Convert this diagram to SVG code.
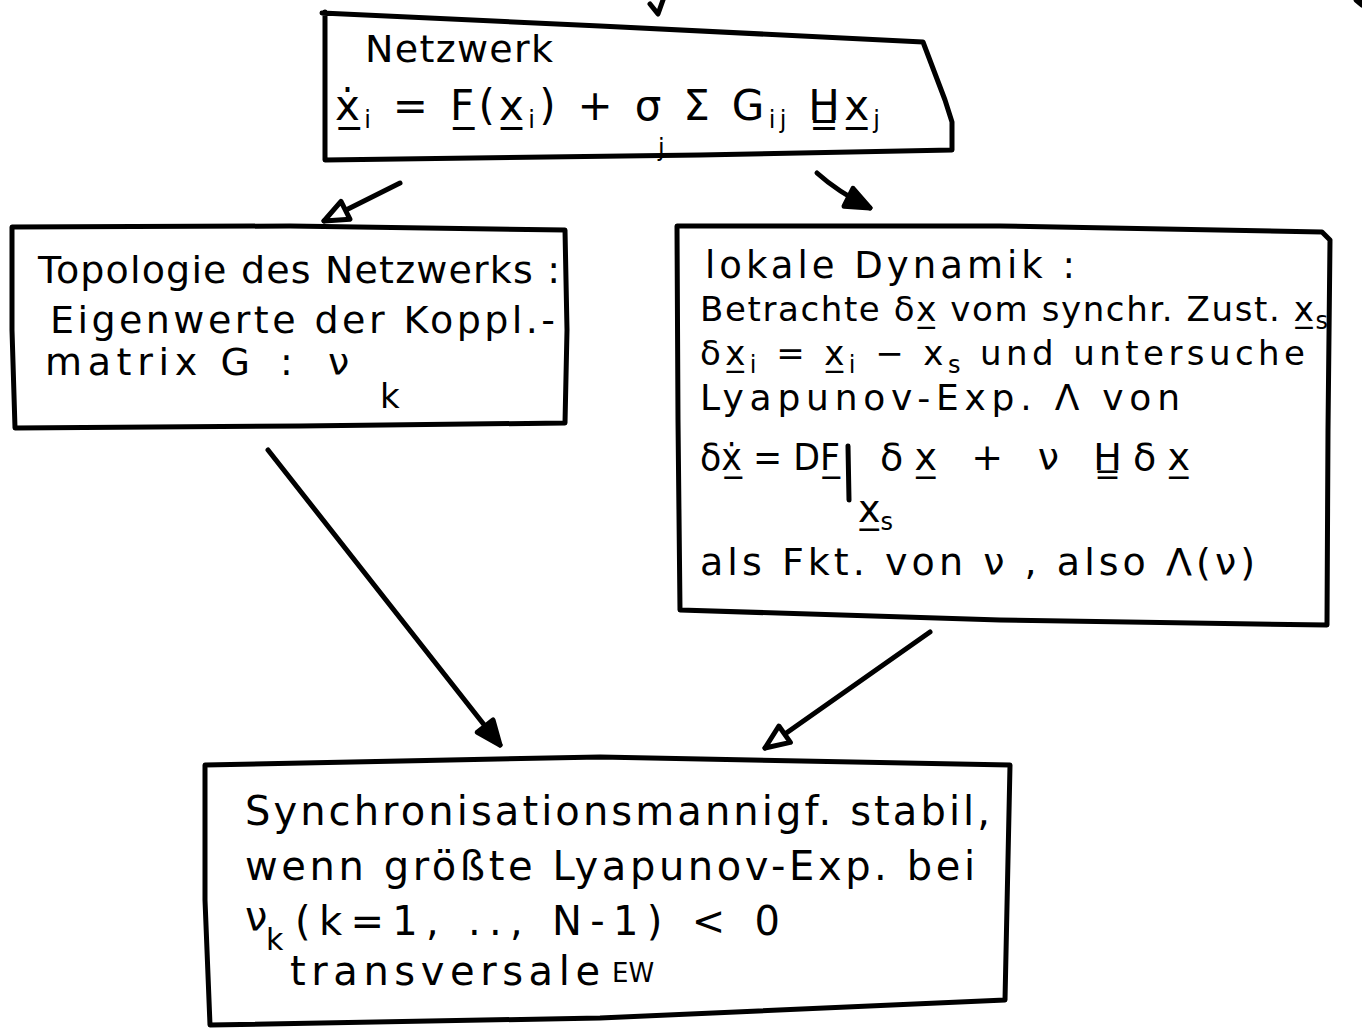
<svg xmlns="http://www.w3.org/2000/svg" width="1362" height="1031" viewBox="0 0 1362 1031">
<style>
.box{fill:none;stroke:#000;stroke-width:5;stroke-linejoin:round;stroke-linecap:round}
.con{fill:none;stroke:#000;stroke-width:5;stroke-linecap:round;stroke-linejoin:round}
text{font-family:"DejaVu Sans","Liberation Sans",sans-serif;fill:#000}
.t{font-size:38px}
.r{font-size:34px}
.r2{font-size:37px}
.f{font-size:42px}
.b{font-size:40px}
.sub{font-size:24px}
</style>
<defs>
<marker id="open" markerUnits="userSpaceOnUse" markerWidth="34" markerHeight="34" viewBox="0 0 34 34" refX="28" refY="17" orient="auto">
<path d="M4,7 L28,17 L4,27 Z" fill="#fff" stroke="#000" stroke-width="5" stroke-linejoin="round"/>
</marker>
<marker id="fill" markerUnits="userSpaceOnUse" markerWidth="34" markerHeight="34" viewBox="0 0 34 34" refX="28" refY="17" orient="auto">
<path d="M4,7 L28,17 L4,27 Z" fill="#000" stroke="#000" stroke-width="5" stroke-linejoin="round"/>
</marker>
</defs>
<rect width="1362" height="1031" fill="#fff"/>

<g id="connectors">
<path class="con" d="M650,4 L658,14 L663,0"/>
<path class="con" d="M1356,0 L1362,5 L1362,0 Z" fill="#000"/>
<path class="con" d="M400,183 L324,221" marker-end="url(#open)"/>
<path class="con" d="M817,173 Q838,192 870,208" marker-end="url(#fill)"/>
<path class="con" d="M268,450 L500,745" marker-end="url(#fill)"/>
<path class="con" d="M930,632 L765,748" marker-end="url(#open)"/>
</g>

<g id="node-netzwerk">
<path class="box" d="M322,13 L600,26 L923,42 L945,100 L952,122 L952,150 L700,155 L325,160 L325,12"/>
<text class="t" x="365" y="62" textLength="188" lengthAdjust="spacing">Netzwerk</text>
<text class="f" x="335" y="120" textLength="545" lengthAdjust="spacing">ẋ̲<tspan class="sub" dy="8">i</tspan><tspan dy="-8"> = F̲(x̲</tspan><tspan class="sub" dy="8">i</tspan><tspan dy="-8">) + σ Σ G</tspan><tspan class="sub" dy="8">ij</tspan><tspan dy="-8"> H̳x̲</tspan><tspan class="sub" dy="8">j</tspan></text>
<text class="sub" x="658" y="156">j</text>
</g>

<g id="node-topologie">
<path class="box" d="M12,227 L290,226 L565,230 L567,330 L565,423 L300,426 L15,428 L12,330 Z"/>
<text class="t" x="38" y="283" textLength="522" lengthAdjust="spacing">Topologie des Netzwerks :</text>
<text class="t" x="50" y="333" textLength="505" lengthAdjust="spacing">Eigenwerte der Koppl.-</text>
<text class="t" x="45" y="375" textLength="205" lengthAdjust="spacing">matrix G</text>
<text class="t" x="280" y="375">:</text>
<text class="t" x="328" y="375">ν</text>
<text x="380" y="408" style="font-size:34px">k</text>
</g>

<g id="node-lokale">
<path class="box" d="M677,226 L1000,226 L1322,232 L1330,240 L1328,430 L1327,625 L1000,620 L680,610 L678,420 Z"/>
<text class="r2" x="705" y="278" textLength="370" lengthAdjust="spacing">lokale Dynamik :</text>
<text class="r" x="700" y="321" textLength="628" lengthAdjust="spacing">Betrachte δx̲ vom synchr. Zust. x̲<tspan class="sub" dy="8">s</tspan></text>
<text class="r" x="700" y="365" textLength="605" lengthAdjust="spacing">δx̲<tspan class="sub" dy="8">i</tspan><tspan dy="-8"> = x̲</tspan><tspan class="sub" dy="8">i</tspan><tspan dy="-8"> − x</tspan><tspan class="sub" dy="8">s</tspan><tspan dy="-8"> und untersuche</tspan></text>
<text class="r" x="700" y="410" textLength="480" lengthAdjust="spacing" style="font-size:36px">Lyapunov-Exp. Λ von</text>
<text class="t" x="700" y="470" textLength="140" lengthAdjust="spacingAndGlyphs">δẋ̲ = DF̲</text>
<path class="con" d="M848,446 L849,500"/>
<text class="t" x="880" y="470" textLength="310" lengthAdjust="spacing">δx̲ + ν H̳δx̲</text>
<text class="t" x="858" y="522">x̲<tspan class="sub" dy="8">s</tspan></text>
<text class="t" x="700" y="575" textLength="555" lengthAdjust="spacing">als Fkt. von ν , also Λ(ν)</text>
</g>

<g id="node-synchronisation">
<path class="box" d="M205,765 L600,757 L1010,765 L1005,1000 L600,1018 L210,1025 L205,900 Z"/>
<text class="b" x="245" y="825" textLength="745" lengthAdjust="spacing">Synchronisationsmannigf. stabil,</text>
<text class="b" x="245" y="880" textLength="730" lengthAdjust="spacing">wenn größte Lyapunov-Exp. bei</text>
<text class="b" x="245" y="930">ν</text>
<text x="266" y="950" style="font-size:30px">k</text>
<text class="b" x="295" y="935" textLength="485" lengthAdjust="spacing">(k=1, .., N-1) &lt; 0</text>
<text class="b" x="290" y="985" textLength="310" lengthAdjust="spacing">transversale</text>
<text x="612" y="982" style="font-size:26px">EW</text>
</g>
</svg>
